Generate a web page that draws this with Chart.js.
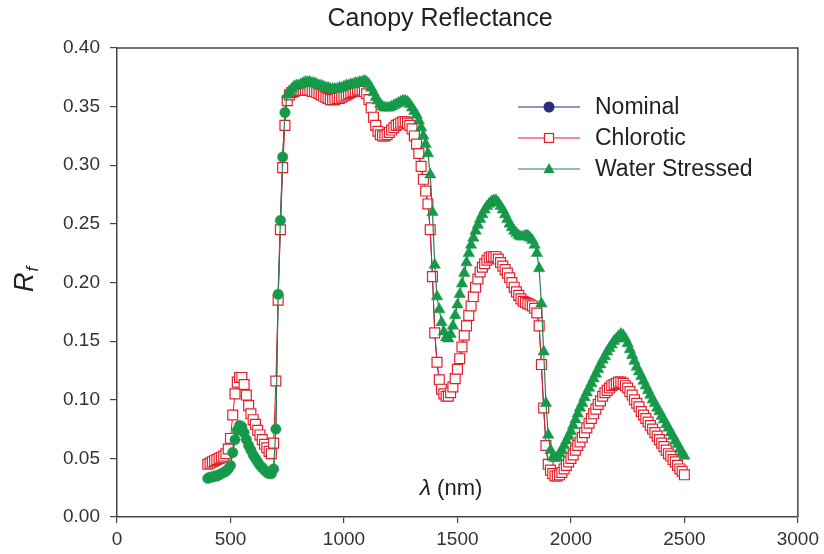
<!DOCTYPE html>
<html><head><meta charset="utf-8">
<script src="https://cdn.jsdelivr.net/npm/chart.js@4.4.1/dist/chart.umd.min.js"></script>
<style>html,body{margin:0;padding:0;background:#fff}canvas{display:block}</style>
</head><body>
<canvas id="c" width="824" height="554"></canvas>
<script>
const chartTitle = 'Canopy Reflectance';
const xAxisSymbol = 'λ';
const xAxisUnit = ' (nm)';
const yAxisSymbol = 'R';
const yAxisSub = 'f';
const seriesNames = ['Nominal', 'Chlorotic', 'Water Stressed'];
const xTicks = [0, 500, 1000, 1500, 2000, 2500, 3000];
const yTicks = [0, 0.05, 0.10, 0.15, 0.20, 0.25, 0.30, 0.35, 0.40];

const wavelengthNm = [400,410,420,430,440,450,460,470,480,490,500,510,520,530,540,550,560,570,580,590,600,610,620,630,640,650,660,670,680,690,700,710,720,730,740,750,760,770,780,790,800,810,820,830,840,850,860,870,880,890,900,910,920,930,940,950,960,970,980,990,1000,1010,1020,1030,1040,1050,1060,1070,1080,1090,1100,1110,1120,1130,1140,1150,1160,1170,1180,1190,1200,1210,1220,1230,1240,1250,1260,1270,1280,1290,1300,1310,1320,1330,1340,1350,1360,1370,1380,1390,1400,1410,1420,1430,1440,1450,1460,1470,1480,1490,1500,1510,1520,1530,1540,1550,1560,1570,1580,1590,1600,1610,1620,1630,1640,1650,1660,1670,1680,1690,1700,1710,1720,1730,1740,1750,1760,1770,1780,1790,1800,1810,1820,1830,1840,1850,1860,1870,1880,1890,1900,1910,1920,1930,1940,1950,1960,1970,1980,1990,2000,2010,2020,2030,2040,2050,2060,2070,2080,2090,2100,2110,2120,2130,2140,2150,2160,2170,2180,2190,2200,2210,2220,2230,2240,2250,2260,2270,2280,2290,2300,2310,2320,2330,2340,2350,2360,2370,2380,2390,2400,2410,2420,2430,2440,2450,2460,2470,2480,2490,2500];

const waterStressed = [.033,.034,.034,.035,.035,.036,.037,.038,.039,.041,.044,.055,.066,.074,.078,.077,.072,.066,.061,.057,.053,.050,.047,.044,.042,.040,.038,.037,.037,.041,.075,.190,.253,.307,.345,.360,.363,.365,.367,.368,.368,.369,.370,.371,.371,.371,.370,.370,.369,.368,.368,.367,.366,.366,.365,.365,.365,.365,.366,.366,.367,.368,.368,.369,.369,.370,.370,.371,.371,.372,.371,.369,.366,.362,.358,.355,.352,.350,.349,.349,.349,.350,.351,.352,.353,.354,.355,.355,.354,.352,.349,.346,.343,.338,.332,.325,.318,.310,.292,.260,.215,.188,.177,.166,.158,.153,.152,.156,.163,.172,.181,.190,.199,.208,.217,.225,.232,.238,.244,.249,.254,.258,.262,.265,.267,.269,.270,.270,.268,.265,.262,.258,.254,.250,.247,.244,.242,.240,.239,.239,.240,.240,.238,.236,.232,.225,.212,.182,.141,.097,.070,.057,.051,.050,.051,.054,.057,.061,.065,.069,.073,.078,.083,.088,.093,.097,.102,.106,.110,.114,.118,.122,.126,.130,.134,.137,.141,.144,.147,.150,.152,.154,.156,.155,.152,.148,.143,.138,.133,.128,.124,.120,.116,.112,.108,.104,.100,.097,.093,.090,.086,.083,.079,.076,.072,.069,.065,.062,.058,.055,.052];

const chlorotic = [.045,.046,.047,.048,.049,.050,.051,.052,.054,.058,.067,.087,.105,.115,.119,.119,.113,.104,.095,.088,.083,.079,.074,.070,.066,.062,.059,.056,.054,.063,.116,.185,.245,.298,.334,.355,.360,.362,.363,.364,.364,.364,.364,.364,.364,.364,.363,.363,.362,.361,.360,.359,.358,.357,.356,.356,.356,.357,.357,.358,.359,.360,.361,.362,.363,.363,.364,.364,.364,.363,.361,.356,.349,.341,.334,.329,.326,.325,.325,.326,.328,.330,.332,.334,.335,.336,.337,.337,.336,.334,.331,.325,.318,.310,.299,.288,.278,.267,.245,.205,.157,.132,.117,.109,.105,.103,.103,.106,.111,.118,.126,.135,.145,.155,.163,.172,.180,.188,.196,.203,.209,.213,.216,.219,.221,.222,.222,.222,.220,.217,.214,.211,.208,.204,.200,.196,.192,.189,.186,.184,.183,.182,.181,.180,.178,.174,.163,.130,.093,.061,.045,.040,.037,.035,.035,.036,.038,.041,.044,.047,.050,.053,.057,.061,.064,.068,.072,.076,.080,.084,.088,.092,.096,.099,.103,.106,.108,.110,.112,.113,.114,.115,.115,.114,.112,.110,.107,.104,.100,.097,.094,.090,.087,.084,.081,.078,.075,.072,.069,.066,.063,.060,.057,.054,.052,.049,.047,.044,.041,.039,.036];

const nominal = [.033,.034,.034,.035,.035,.036,.037,.038,.039,.041,.044,.055,.066,.074,.078,.077,.072,.066,.061,.057,.053,.050,.047,.044,.042,.040,.038,.037,.037,.041,.075,.190,.253,.307,.345,.355,.360,.362,.363,.364,.364,.364,.364,.364,.364,.364,.363,.363,.362,.361,.360,.359,.358,.357,.356,.356,.356,.357,.357,.358,.359,.360,.361,.362,.363,.363,.364,.364,.364,.363,.361,.356,.349,.341,.334,.329,.326,.325,.325,.326,.328,.330,.332,.334,.335,.336,.337,.337,.336,.334,.331,.325,.318,.310,.299,.288,.278,.267,.245,.205,.157,.132,.117,.109,.105,.103,.103,.106,.111,.118,.126,.135,.145,.155,.163,.172,.180,.188,.196,.203,.209,.213,.216,.219,.221,.222,.222,.222,.220,.217,.214,.211,.208,.204,.200,.196,.192,.189,.186,.184,.183,.182,.181,.180,.178,.174,.163,.130,.093,.061,.045,.040,.037,.035,.035,.036,.038,.041,.044,.047,.050,.053,.057,.061,.064,.068,.072,.076,.080,.084,.088,.092,.096,.099,.103,.106,.108,.110,.112,.113,.114,.115,.115,.114,.112,.110,.107,.104,.100,.097,.094,.090,.087,.084,.081,.078,.075,.072,.069,.066,.063,.060,.057,.054,.052,.049,.047,.044,.041,.039,.036];

const NAVY = '#2b2d7a', RED = '#e2202c', GREEN = '#17994a', GREEN_LINE = '#2f7d52';
const FONT = '"Liberation Sans", Arial, Helvetica, sans-serif';

function pts(vals) { return wavelengthNm.map((x, i) => ({ x: x, y: vals[i] })); }

function drawMarker(ctx, style, x, y) {
  ctx.save();
  if (style === 'circle') {
    ctx.fillStyle = NAVY; ctx.beginPath(); ctx.arc(x, y, 5.5, 0, Math.PI * 2); ctx.fill();
  } else if (style === 'rect') {
    ctx.fillStyle = '#fff'; ctx.strokeStyle = RED; ctx.lineWidth = 1.2;
    ctx.fillRect(x - 4.5, y - 4.5, 9, 9); ctx.strokeRect(x - 4.5, y - 4.5, 9, 9);
  } else {
    ctx.fillStyle = GREEN; ctx.beginPath();
    ctx.moveTo(x, y - 6); ctx.lineTo(x + 5.5, y + 4); ctx.lineTo(x - 5.5, y + 4); ctx.closePath(); ctx.fill();
  }
  ctx.restore();
}

const decor = {
  id: 'decor',
  afterDraw(chart) {
    const { ctx, chartArea: a } = chart;
    ctx.save();
    ctx.strokeStyle = '#444'; ctx.lineWidth = 1.5;
    ctx.beginPath(); ctx.moveTo(a.left, a.top); ctx.lineTo(a.right, a.top); ctx.lineTo(a.right, a.bottom); ctx.stroke();

    ctx.fillStyle = '#222'; ctx.textBaseline = 'middle';
    ctx.font = '25px ' + FONT; ctx.textAlign = 'center';
    ctx.fillText(chartTitle, 440, 19);

    // x axis title inside plot
    ctx.textAlign = 'left';
    ctx.font = 'italic 23px ' + FONT; const w1 = ctx.measureText(xAxisSymbol).width;
    ctx.font = '22px ' + FONT; const w2 = ctx.measureText(xAxisUnit).width;
    let sx = 451 - (w1 + w2) / 2;
    ctx.font = 'italic 23px ' + FONT; ctx.fillText(xAxisSymbol, sx, 489);
    ctx.font = '22px ' + FONT; ctx.fillText(xAxisUnit, sx + w1, 489);

    // y axis title
    ctx.save();
    ctx.translate(24, 280); ctx.rotate(-Math.PI / 2);
    ctx.font = 'italic 27px ' + FONT; const r1 = ctx.measureText(yAxisSymbol).width;
    ctx.font = 'italic 17px ' + FONT; const r2 = ctx.measureText(yAxisSub).width;
    const s0 = -(r1 + r2) / 2;
    ctx.textBaseline = 'alphabetic';
    ctx.font = 'italic 27px ' + FONT; ctx.fillText(yAxisSymbol, s0, 9);
    ctx.font = 'italic 17px ' + FONT; ctx.fillText(yAxisSub, s0 + r1 + 1, 14);
    ctx.restore();

    // legend
    const styles = ['circle', 'rect', 'triangle'];
    const colors = [NAVY, RED, GREEN_LINE];
    seriesNames.forEach((name, i) => {
      const y = 107 + i * 31;
      ctx.strokeStyle = colors[i]; ctx.lineWidth = 1.2;
      ctx.beginPath(); ctx.moveTo(518, y); ctx.lineTo(580, y); ctx.stroke();
      drawMarker(ctx, styles[i], 549, y);
      ctx.fillStyle = '#222'; ctx.font = '23px ' + FONT; ctx.textAlign = 'left'; ctx.textBaseline = 'middle';
      ctx.fillText(name, 595, y + 1);
    });
    ctx.restore();
  }
};

new Chart(document.getElementById('c'), {
  type: 'line',
  data: {
    datasets: [
      { label: seriesNames[0], data: pts(nominal), order: 3, borderColor: NAVY, borderWidth: 1,
        pointStyle: 'circle', pointRadius: 3, pointBackgroundColor: NAVY, pointBorderColor: NAVY, pointBorderWidth: 0 },
      { label: seriesNames[1], data: pts(chlorotic), order: 2, borderColor: RED, borderWidth: 1,
        pointStyle: 'rect', pointRadius: 7, pointBackgroundColor: '#fff', pointBorderColor: RED, pointBorderWidth: 1.2 },
      { label: seriesNames[2], data: pts(waterStressed), order: 1, borderColor: GREEN_LINE, borderWidth: 1.2,
        pointStyle: c => (wavelengthNm[c.dataIndex] <= 740 ? 'circle' : 'triangle'),
        pointRadius: c => (wavelengthNm[c.dataIndex] <= 740 ? 5.2 : 6.6),
        pointBackgroundColor: GREEN, pointBorderColor: GREEN, pointBorderWidth: 0.5 }
    ]
  },
  options: {
    responsive: false, animation: false, devicePixelRatio: 1,
    layout: { padding: { top: 48, right: 24, left: 0, bottom: 0 } },
    elements: { line: { tension: 0 } },
    plugins: { legend: { display: false }, title: { display: false }, tooltip: { enabled: false } },
    scales: {
      x: {
        type: 'linear', min: 0, max: 3000,
        afterBuildTicks: s => { s.ticks = xTicks.map(v => ({ value: v })); },
        afterFit: s => { s.height = 37; },
        ticks: { callback: v => String(v), font: { family: FONT, size: 19 }, color: '#333', padding: 5, maxRotation: 0, autoSkip: false },
        grid: { drawOnChartArea: false, drawTicks: true, tickLength: 6, color: '#444', lineWidth: 1.2 },
        border: { display: true, color: '#444', width: 1.5 }
      },
      y: {
        type: 'linear', min: 0, max: 0.4,
        afterBuildTicks: s => { s.ticks = yTicks.map(v => ({ value: v })); },
        afterFit: s => { s.width = 117; },
        ticks: { callback: v => Number(v).toFixed(2), font: { family: FONT, size: 19 }, color: '#333', padding: 10 },
        grid: { drawOnChartArea: false, drawTicks: true, tickLength: 7, color: '#444', lineWidth: 1.2 },
        border: { display: true, color: '#444', width: 1.5 }
      }
    }
  },
  plugins: [decor]
});
</script>
</body></html>
